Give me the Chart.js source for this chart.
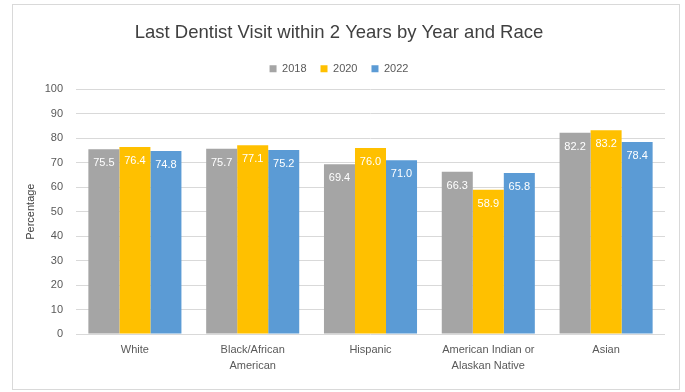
<!DOCTYPE html>
<html>
<head>
<meta charset="utf-8">
<script src="https://cdn.jsdelivr.net/npm/chart.js@4.4.1/dist/chart.umd.min.js"></script>
<style>
  html, body { margin: 0; padding: 0; background: #fff; }
  body { width: 685px; height: 392px; position: relative; overflow: hidden; }
  #frame {
    position: absolute; left: 12px; top: 4px;
    width: 666px; height: 384px;
    border: 1px solid #d9d9d9;
  }
  #chart { display: block; }
</style>
</head>
<body>
<div id="frame"><canvas id="chart" width="666" height="384"></canvas></div>
<script>
const categories = [
  ["White"],
  ["Black/African", "American"],
  ["Hispanic"],
  ["American Indian or", "Alaskan Native"],
  ["Asian"]
];
const years = ["2018", "2020", "2022"];
const values2018 = [75.5, 75.7, 69.4, 66.3, 82.2];
const values2020 = [76.4, 77.1, 76.0, 58.9, 83.2];
const values2022 = [74.8, 75.2, 71.0, 65.8, 78.4];
const colors = ["#a5a5a5", "#ffc000", "#5b9bd5"];

const FONT = "'Liberation Sans', Arial, sans-serif";
const TXT = "#595959";

// white value labels just inside the top of each bar
const barLabels = {
  id: "barLabels",
  afterDatasetsDraw(chart){
    const ctx = chart.ctx;
    ctx.save();
    ctx.font = "11px " + FONT;
    ctx.fillStyle = "#ffffff";
    ctx.textAlign = "center";
    ctx.textBaseline = "middle";
    chart.data.datasets.forEach((ds, i) => {
      chart.getDatasetMeta(i).data.forEach((bar, j) => {
        ctx.fillText(ds.data[j].toFixed(1), bar.x, bar.y + 14);
      });
    });
    ctx.restore();
  }
};

// a little extra room under the legend
const legendGap = {
  id: "legendGap",
  afterInit(chart){
    const lg = chart.legend;
    if (!lg) return;
    const fit = lg.fit;
    lg.fit = function(){ fit.call(this); this.height += 5; };
  }
};

new Chart(document.getElementById("chart").getContext("2d"), {
  type: "bar",
  data: {
    labels: categories,
    datasets: [
      { label: years[0], data: values2018, backgroundColor: colors[0] },
      { label: years[1], data: values2020, backgroundColor: colors[1] },
      { label: years[2], data: values2022, backgroundColor: colors[2] }
    ]
  },
  options: {
    responsive: false,
    animation: false,
    datasets: { bar: { categoryPercentage: 0.79, barPercentage: 1.0 } },
    layout: { padding: { left: 0, right: 14, top: 13, bottom: 15 } },
    plugins: {
      title: {
        display: true,
        text: "Last Dentist Visit within 2 Years by Year and Race",
        color: "#404040",
        font: { family: FONT, size: 18.5, weight: "normal" },
        padding: { top: 4, bottom: 5 }
      },
      legend: {
        display: true,
        position: "top",
        labels: {
          color: TXT,
          font: { family: FONT, size: 11 },
          boxWidth: 7,
          boxHeight: 7,
          padding: 14
        }
      },
      tooltip: { enabled: false }
    },
    scales: {
      x: {
        grid: { display: false },
        border: { display: false },
        ticks: {
          color: TXT,
          font: { family: FONT, size: 11, lineHeight: 1.45 },
          maxRotation: 0,
          padding: 0
        }
      },
      y: {
        min: 0,
        max: 100,
        ticks: {
          stepSize: 10,
          color: TXT,
          font: { family: FONT, size: 11 },
          padding: 13
        },
        grid: { color: "#d9d9d9", drawTicks: false },
        border: { display: false },
        title: {
          display: true,
          text: "Percentage",
          color: "#404040",
          font: { family: FONT, size: 11 },
          padding: { top: 11, bottom: 0 }
        },
        afterFit(scale){ scale.width = 63; }
      }
    }
  },
  plugins: [barLabels, legendGap]
});
</script>
</body>
</html>
